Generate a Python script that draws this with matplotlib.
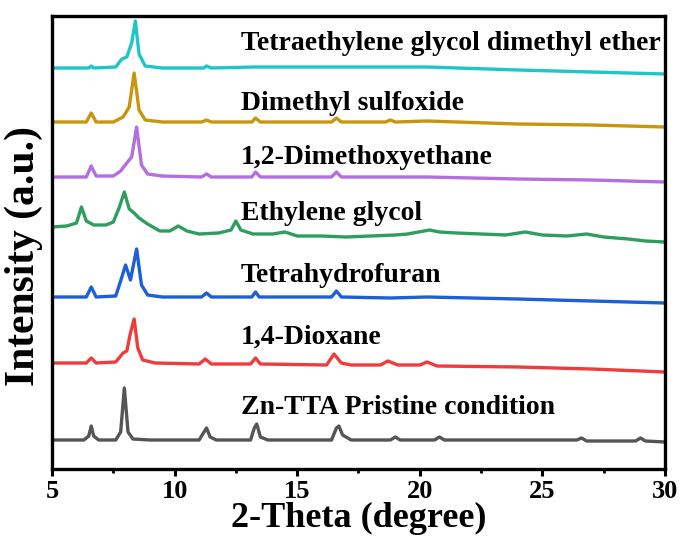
import numpy as np
import matplotlib
matplotlib.use('Agg')
import matplotlib.pyplot as plt
from matplotlib.ticker import MultipleLocator

# 2-theta / relative intensity pairs for each sample (intensity above its own baseline)
pristine_tt = [5.0, 6.3, 6.5, 6.6, 6.7, 6.9, 7.6, 7.8, 7.95, 8.1, 8.3, 9.0, 11.0, 11.2, 11.3, 11.45, 11.7,
               13.1, 13.25, 13.35, 13.5, 13.8, 16.4, 16.6, 16.7, 16.85, 17.2, 18.8, 19.0, 19.2, 20.6, 20.8,
               21.0, 26.4, 26.6, 26.8, 28.8, 29.0, 29.2, 30.0]
pristine_int = [0, 0, 4, 14, 4, 0, 0, 8, 52, 8, 1, 0, 0, 8, 12, 3, 0,
                0, 12, 16, 3, 0, 0, 12, 14, 5, 0, 0, 3, 0, 0, 3,
                0, 0, 2, -1, -1, 2, -1, -2]

dioxane_tt = [5.0, 6.4, 6.6, 6.8, 7.6, 7.9, 8.05, 8.2, 8.35, 8.5, 8.7, 9.2, 11.0, 11.25, 11.5, 13.1, 13.3,
              13.5, 16.2, 16.5, 16.8, 17.2, 18.4, 18.7, 19.1, 20.0, 20.3, 20.7, 24.0, 27.0, 30.0]
dioxane_int = [0, 0, 5, 0, 1, 10, 12, 30, 44, 15, 3, 0, -1, 4, -1, -1, 5,
               -1, -2, 9, 0, -2, -2, 2, -2, -2, 1, -3, -4, -6, -9]

thf_tt = [5.0, 6.4, 6.6, 6.8, 7.6, 7.85, 8.0, 8.2, 8.45, 8.65, 8.9, 9.5, 11.1, 11.3, 11.5, 13.15, 13.3,
          13.45, 16.4, 16.6, 16.8, 18.8, 20.3, 24.0, 27.0, 30.0]
thf_int = [0, 0, 10, 0, 1, 20, 32, 17, 48, 12, 2, 0, 0, 4, 0, 0, 5,
           0, 0, 6, 0, -1, 0, -2, -4, -6]

eg_tt = [5.0, 5.6, 6.0, 6.2, 6.4, 6.7, 7.2, 7.5, 7.75, 7.95, 8.15, 8.35, 8.55, 8.9, 9.4, 9.8, 10.15,
         10.5, 11.0, 11.8, 12.3, 12.5, 12.7, 13.2, 14.0, 14.5, 15.0, 16.0, 17.0, 18.0, 19.0, 19.5,
         20.4, 20.8, 21.5, 22.5, 23.5, 24.3, 25.0, 26.0, 26.8, 27.5, 28.5, 29.2, 30.0]
eg_int = [0, 1, 4, 20, 6, 2, 2, 5, 20, 35, 18, 14, 9, 3, -4, -4, 1,
          -4, -7, -6, -3, 6, -3, -7, -7, -5, -9, -9, -10, -9, -8, -7,
          -3, -5, -6, -7, -8, -5, -8, -9, -7, -10, -12, -14, -15]

dme_tt = [5.0, 6.4, 6.6, 6.8, 7.5, 7.8, 8.05, 8.25, 8.45, 8.65, 8.9, 9.5, 11.1, 11.3, 11.5, 13.15, 13.3,
          13.5, 16.4, 16.6, 16.8, 18.8, 20.3, 24.0, 27.0, 30.0]
dme_int = [0, 0, 11, 1, 1, 6, 14, 20, 50, 12, 3, 1, 0, 3, 0, 0, 5,
           0, 0, 5, 0, 0, 0, -2, -3, -5]

dmso_tt = [5.0, 6.4, 6.6, 6.8, 7.5, 7.9, 8.15, 8.35, 8.55, 8.8, 9.5, 11.1, 11.3, 11.5, 13.15, 13.3, 13.5,
           16.4, 16.6, 16.8, 18.6, 18.8, 19.0, 20.3, 24.0, 27.0, 30.0]
dmso_int = [0, 0, 9, 0, 0, 5, 15, 49, 12, 2, 0, 0, 2, 0, 0, 4, 0,
            0, 4, 0, 0, 2, 0, 1, -2, -3, -5]

teg_tt = [5.0, 6.5, 6.6, 6.7, 7.6, 7.85, 8.05, 8.25, 8.4, 8.55, 8.8, 9.5, 11.2, 11.3, 11.5, 13.3, 16.5,
          18.8, 20.3, 24.0, 27.0, 30.0]
teg_int = [0, 0, 2, 0, 1, 9, 11, 25, 47, 14, 2, 0, 0, 2, 0, 1, 1,
           1, 1, -2, -4, -6]

labels = ['Zn-TTA Pristine condition', '1,4-Dioxane', 'Tetrahydrofuran', 'Ethylene glycol',
          '1,2-Dimethoxyethane', 'Dimethyl sulfoxide', 'Tetraethylene glycol dimethyl ether']
offsets = [29, 106, 172, 242, 292, 347, 401]
label_y = [62, 132, 194, 255, 311, 365, 425]

series = [(pristine_tt, pristine_int), (dioxane_tt, dioxane_int), (thf_tt, thf_int), (eg_tt, eg_int),
          (dme_tt, dme_int), (dmso_tt, dmso_int), (teg_tt, teg_int)]
colors = ['#555555', '#EE3B3B', '#1B5FD9', '#2E9E5E', '#B46EE0', '#C8960C', '#1EC6C6']

plt.rcParams['font.family'] = 'Liberation Serif'
plt.rcParams['font.weight'] = 'bold'

fig = plt.figure(figsize=(6.83, 5.43), dpi=100)
ax = fig.add_axes([52/683, 74/543, 613/683, 453/543])

for (tt, inten), off, c, lab, ly in zip(series, offsets, colors, labels, label_y):
    ax.plot(tt, np.array(inten) + off, color=c, lw=2.4, solid_joinstyle='round')
    ax.text(12.7, ly, lab, fontsize=20, fontweight='bold', va='center', ha='left')

ax.set_xlim(5, 30)
ax.set_ylim(0, 453)
ax.set_yticks([])
ax.xaxis.set_major_locator(MultipleLocator(5))
ax.xaxis.set_minor_locator(MultipleLocator(2.5))
ax.tick_params(axis='x', which='major', direction='out', length=5, width=2.2, labelsize=19, pad=3)
ax.tick_params(axis='x', which='minor', direction='out', length=3, width=2.0)
for sp in ax.spines.values():
    sp.set_linewidth(2.4)

ax.set_xlabel('2-Theta (degree)', fontsize=26, fontweight='bold', labelpad=-1)
ax.set_ylabel('Intensity (a.u.)', fontsize=30, fontweight='bold')
ax.yaxis.set_label_coords(-0.014, 0.47)

fig.savefig('out.png', dpi=100)
